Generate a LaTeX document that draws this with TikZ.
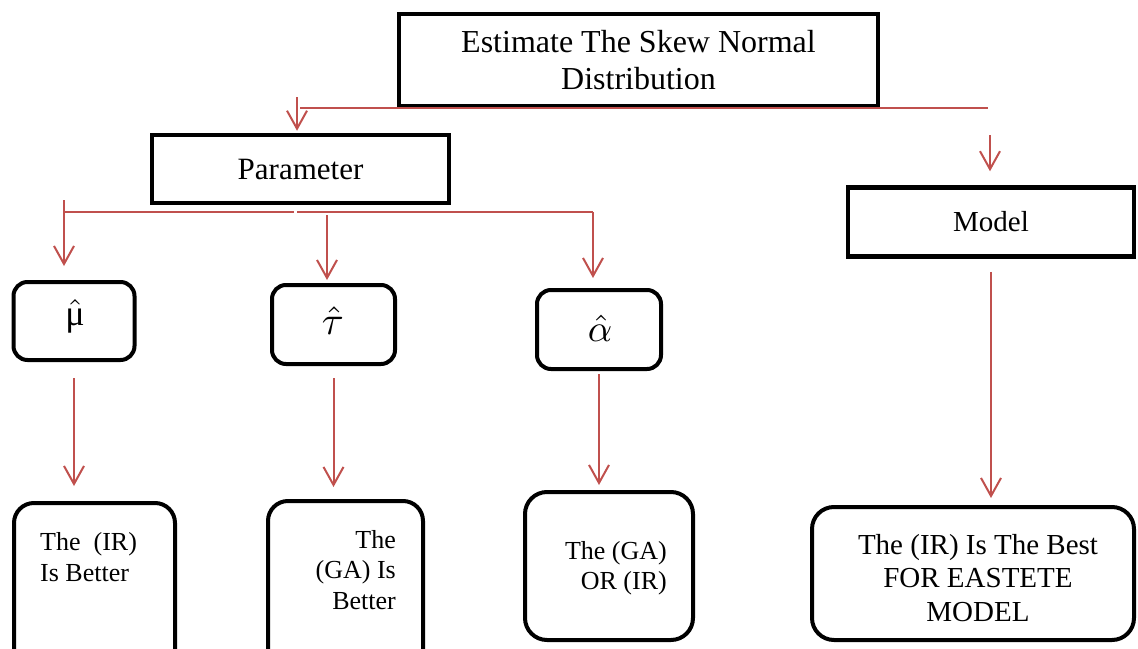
\documentclass[tikz,border=0pt]{standalone}
\usepackage{amsmath}
\usepackage{graphicx}
\usepackage{fontspec}
\setmainfont{Liberation Serif}
\usetikzlibrary{arrows.meta}
\definecolor{redline}{RGB}{192,80,77}
\begin{document}
\begin{tikzpicture}[x=1pt,y=-1pt,
  sqbox/.style={draw=black, line width=4.5pt, rectangle, inner sep=0pt},
  rbox/.style={draw=black, line width=4pt, rectangle, rounded corners=14pt, inner sep=0pt},
  link/.style={draw=redline, line width=2pt},
  arr/.style={link, -{Straight Barb[length=18pt,width=20pt]}},
  small/.style={font=\fontsize{26}{30.5}\selectfont, inner sep=0pt},
  big/.style={font=\fontsize{29}{33.5}\selectfont, inner sep=0pt}
]
\useasboundingbox (0,0) rectangle (1138,648);
\clip (0,0) rectangle (1138,648);

% boxes
\node[sqbox, minimum width=479pt, minimum height=92pt, align=center,
      font=\fontsize{32}{37}\selectfont] (top) at (638.5,60) {Estimate The Skew Normal\\Distribution};
\node[sqbox, minimum width=297pt, minimum height=68pt,
      font=\fontsize{31}{36}\selectfont] (param) at (300.5,169) {Parameter};
\node[sqbox, minimum width=286pt, minimum height=69pt,
      font=\fontsize{29}{34}\selectfont] (model) at (991,222) {Model};

\node[rbox, minimum width=121pt, minimum height=78pt] (mu) at (74,321) {};
\node[rbox, minimum width=123pt, minimum height=79pt] (tau) at (333.5,324.5) {};
\node[rbox, minimum width=124pt, minimum height=79pt] (alpha) at (599,329.5) {};
\node[inner sep=0pt] (mut) at (75,316) {\scalebox{3.6}{$\hat{\text{μ}}$}};
\node[inner sep=0pt] (taut) at (333,321) {\scalebox{4.0}{$\hat{\tau}$}};
\node[inner sep=0pt] (alphat) at (600,328) {\scalebox{3.8}{$\hat{\alpha}$}};

\node[rbox, rounded corners=20pt, minimum width=161pt, minimum height=180pt] (b1) at (94.5,593) {};
\node[rbox, rounded corners=20pt, minimum width=155pt, minimum height=180pt] (b2) at (345.5,591) {};
\node[rbox, rounded corners=22pt, minimum width=168pt, minimum height=148pt] (b3) at (609,566) {};
\node[rbox, rounded corners=22pt, minimum width=322pt, minimum height=133pt] (b4) at (973,573.5) {};

\node[small, align=left, anchor=west] (t1) at (40,557) {The\ \ (IR)\\Is Better};
\node[small, align=right, anchor=east] (t2) at (396,570) {The\\(GA) Is\\Better};
\node[small, align=right, anchor=east] (t3) at (667,568) {The (GA)\\OR (IR)};
\node[big, align=center] (t4) at (978,578) {The (IR) Is The Best\\FOR EASTETE\\MODEL};

% connectors
\coordinate (h1) at (300,108);
\coordinate (h2) at (988,108);
\draw[link] (h1) -- (h2);
\coordinate (a1) at (297,97);
\draw[arr, shorten >=2pt] (a1) -- (a1 |- param.north);
\coordinate (a2) at (990,135);
\draw[arr, shorten >=14pt] (a2) -- (a2 |- model.north);

\coordinate (p1) at (64,212);
\coordinate (p2) at (327,212);
\coordinate (p3) at (593,212);
\draw[link] (p1) -- (294,212);
\draw[link] (297,212) -- (p3);
\draw[arr, shorten >=14pt] (64,200) -- (p1 |- mu.north);
\draw[arr, shorten >=3pt] ([yshift=-3pt]p2) -- (p2 |- tau.north);
\draw[arr, shorten >=10pt] (p3) -- (p3 |- alpha.north);

\draw[arr, shorten <=16pt, shorten >=15pt] (mu.south) -- (mu.south |- b1.north);
\draw[arr, shorten <=12pt, shorten >=12pt] (tau.south) -- (tau.south |- b2.north);
\draw[arr, shorten <=3pt, shorten >=5pt] (alpha.south) -- (alpha.south |- b3.north);
\draw[arr, shorten <=13pt, shorten >=7pt] (model.south) -- (model.south |- b4.north);
\end{tikzpicture}
\end{document}
